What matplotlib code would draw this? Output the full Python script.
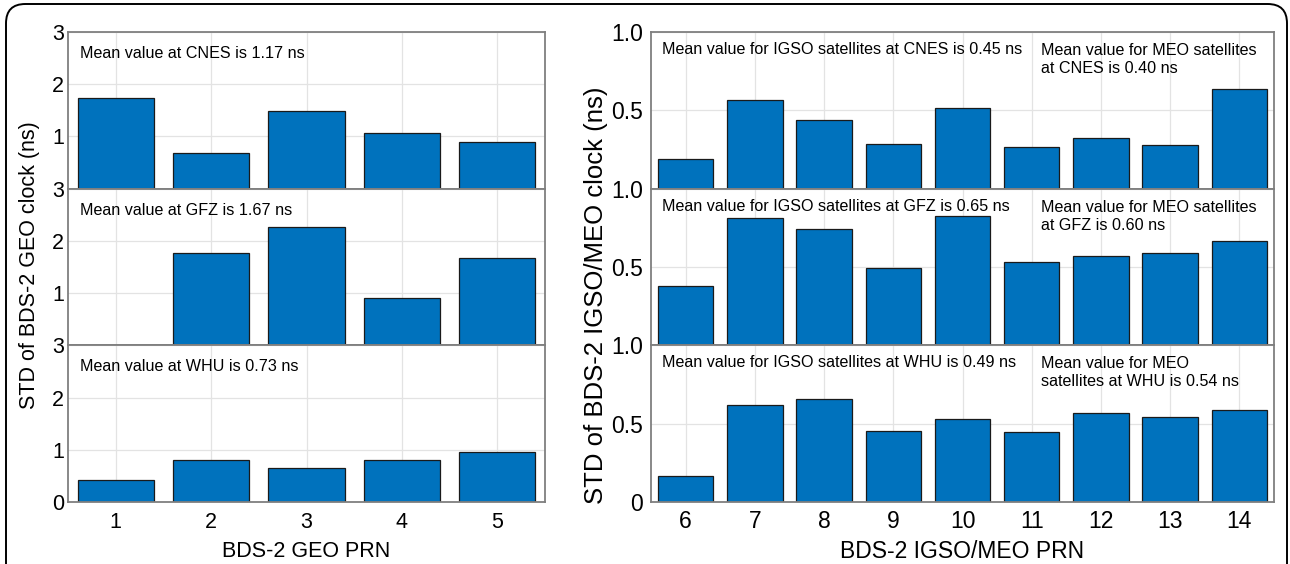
import numpy as np
import matplotlib.pyplot as plt
from matplotlib.patches import FancyBboxPatch

plt.rcParams['font.family'] = ['Liberation Sans', 'DejaVu Sans']

# BDS-2 GEO satellites, STD of clock (ns)
geo_prn = [1, 2, 3, 4, 5]
geo_cnes = [1.74, 0.68, 1.49, 1.07, 0.89]
geo_gfz = [np.nan, 1.77, 2.27, 0.91, 1.68]
geo_whu = [0.42, 0.80, 0.65, 0.80, 0.96]

# BDS-2 IGSO/MEO satellites, STD of clock (ns)
im_prn = [6, 7, 8, 9, 10, 11, 12, 13, 14]
im_cnes = [0.19, 0.565, 0.44, 0.284, 0.513, 0.265, 0.32, 0.276, 0.633]
im_gfz = [0.379, 0.814, 0.739, 0.492, 0.828, 0.530, 0.572, 0.587, 0.665]
im_whu = [0.169, 0.619, 0.659, 0.455, 0.528, 0.449, 0.566, 0.540, 0.587]

geo_notes = ['Mean value at CNES is 1.17 ns',
             'Mean value at GFZ is 1.67 ns',
             'Mean value at WHU is 0.73 ns']
igso_notes = ['Mean value for IGSO satellites at CNES is 0.45 ns',
              'Mean value for IGSO satellites at GFZ is 0.65 ns',
              'Mean value for IGSO satellites at WHU is 0.49 ns']
meo_notes = ['Mean value for MEO satellites\nat CNES is 0.40 ns',
             'Mean value for MEO satellites\nat GFZ is 0.60 ns',
             'Mean value for MEO\nsatellites at WHU is 0.54 ns']

bar_color = '#0072BD'
W, H = 1290, 564

fig = plt.figure(figsize=(W / 100, H / 100), dpi=100)

# rounded frame around the whole figure
frame = FancyBboxPatch((6 / W, -30 / H), 1281 / W, (H - 4 + 30) / H,
                       boxstyle='round,pad=0,rounding_size=0.015',
                       transform=fig.transFigure, fill=False,
                       edgecolor='black', linewidth=1.4, mutation_aspect=W / H)
fig.patches.append(frame)

bottom = 62 / H
ph = 156.7 / H


def style_axes(ax, size):
    ax.set_axisbelow(True)
    ax.grid(True, color='#e3e3e3', linewidth=0.9)
    for s in ax.spines.values():
        s.set_color('#7f7f7f')
        s.set_linewidth(1.3)
    ax.tick_params(length=0, labelsize=size)


# left column: GEO
for i, (vals, note) in enumerate(zip([geo_cnes, geo_gfz, geo_whu], geo_notes)):
    ax = fig.add_axes([68 / W, bottom + (2 - i) * ph, 477 / W, ph])
    ax.bar(geo_prn, vals, width=0.8, color=bar_color, edgecolor='#1a1a1a', linewidth=0.9)
    ax.set_xlim(0.5, 5.5)
    ax.set_ylim(0, 3)
    ax.set_xticks(geo_prn)
    if i < 2:
        ax.set_yticks([1, 2, 3])
        ax.tick_params(labelbottom=False)
    else:
        ax.set_yticks([0, 1, 2, 3])
        ax.set_xlabel('BDS-2 GEO PRN', fontsize=15.5, labelpad=6)
    style_axes(ax, 15.5)
    ax.tick_params(axis='y', pad=3)
    ax.tick_params(axis='x', pad=7)
    ax.text(0.025, 0.862, note, transform=ax.transAxes, fontsize=11.6, va='center', ha='left')

fig.text(30 / W, 1 - 265 / H, 'STD of BDS-2 GEO clock (ns)', rotation=90,
         fontsize=15.5, ha='center', va='center')

# right column: IGSO/MEO
for i, (vals, n1, n2) in enumerate(zip([im_cnes, im_gfz, im_whu], igso_notes, meo_notes)):
    ax = fig.add_axes([651 / W, bottom + (2 - i) * ph, 623 / W, ph])
    ax.bar(im_prn, vals, width=0.8, color=bar_color, edgecolor='#1a1a1a', linewidth=0.9)
    ax.set_xlim(5.5, 14.5)
    ax.set_ylim(0, 1)
    ax.set_xticks(im_prn)
    if i < 2:
        ax.set_yticks([0.5, 1.0])
        ax.set_yticklabels(['0.5', '1.0'])
        ax.tick_params(labelbottom=False)
    else:
        ax.set_yticks([0, 0.5, 1.0])
        ax.set_yticklabels(['0', '0.5', '1.0'])
        ax.set_xlabel('BDS-2 IGSO/MEO PRN', fontsize=16.5, labelpad=5)
    style_axes(ax, 16.5)
    ax.tick_params(axis='y', pad=6)
    ax.tick_params(axis='x', pad=6)
    ax.text(0.018, 0.888, n1, transform=ax.transAxes, fontsize=11.6, va='center', ha='left')
    ax.text(0.626, 0.824, n2, transform=ax.transAxes, fontsize=11.6, va='center',
            ha='left', linespacing=1.25)

fig.text(596 / W, 1 - 295 / H, 'STD of BDS-2 IGSO/MEO clock (ns)', rotation=90,
         fontsize=18.5, ha='center', va='center')

fig.savefig('out.png', dpi=100)
